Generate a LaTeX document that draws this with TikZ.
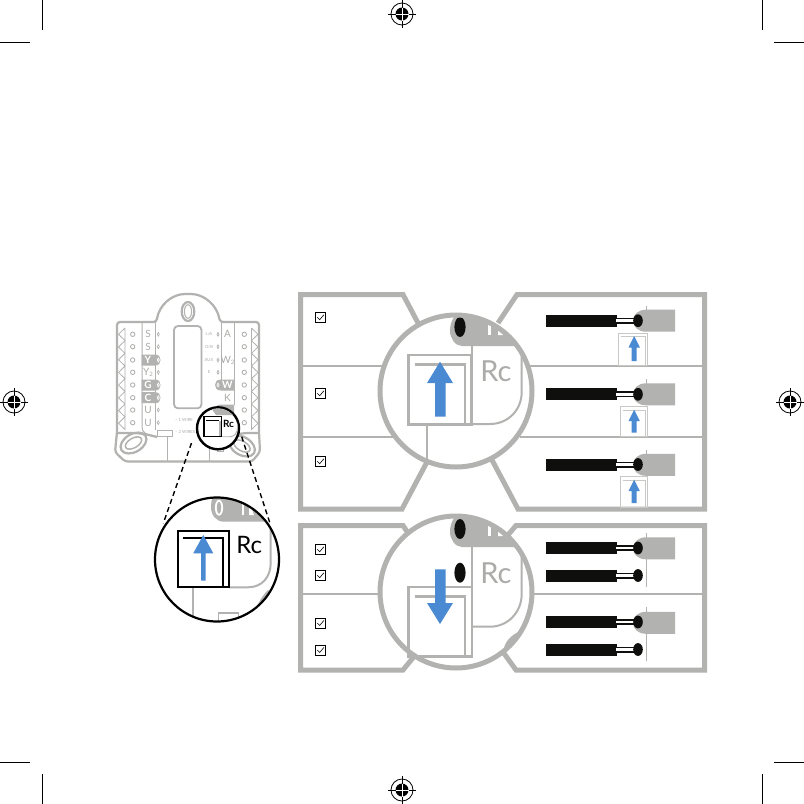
\documentclass[tikz,border=0pt]{standalone}
\usepackage{fontspec}
\setmainfont{Lato}
\definecolor{gr}{HTML}{B2B2B0}
\definecolor{gt}{HTML}{ABABA9}
\definecolor{lg}{HTML}{C8C8C6}
\definecolor{bl}{HTML}{4A8AD2}
\definecolor{ink}{HTML}{0F0F0D}
\newcommand{\regmark}[2]{%
  \draw[black,line width=.8pt] (#1,#2) circle (11);
  \fill[black] (#1,#2) circle (6.5);
  \draw[black,line width=.8pt] (#1-14,#2) -- (#1+14,#2) (#1,#2-14) -- (#1,#2+14);
  \draw[white,line width=.7pt] (#1-6.5,#2) -- (#1+6.5,#2) (#1,#2-6.5) -- (#1,#2+6.5);
}
\newcommand{\chkbox}[1]{%
  \draw[black,line width=1pt] (315.5,#1-5) rectangle (325.2,#1+5);
  \draw[black,line width=.6pt] (317.3,#1) -- (319.7,#1+2.4) -- (324,#1-2.6);
}
\newcommand{\wirerow}[1]{%
  \fill[ink] (546,#1-6) rectangle (616.5,#1+6);
  \fill[ink] (616,#1-3) rectangle (636,#1+3);
  \fill[white] (616,#1-1.3) rectangle (638,#1+1.3);
  \fill[ink] (638,#1) ellipse (4.8 and 6.4);
}
\newcommand{\plug}[1]{%
  \fill[gr] (675,#1-11) -- (646,#1-11) .. controls (638,#1-11) and (633,#1-6) .. (633,#1) .. controls (633,#1+6) and (638,#1+11) .. (646,#1+11) -- (675,#1+11) -- cycle;
}
\newcommand{\upsq}[3]{% left, top, bottom
  \draw[lg,line width=1pt] (#1,#2) rectangle (647,#3);
  \draw[lg,line width=1pt] (#1+2,#2+3.5) -- (645,#2+3.5) -- (645,#3);
  \fill[bl] (634.2-2.5,#3-4) -- (634.2+2.5,#3-4) -- (634.2+2.5,#2+14.5) -- (634.2+5.7,#2+14.5) -- (634.2,#2+3) -- (634.2-5.7,#2+14.5) -- (634.2-2.5,#2+14.5) -- cycle;
}
\newcommand{\tailshape}[1]{%
  \fill[gr] (535,#1+19) -- (462,#1+19) .. controls (455,#1+19) and (450,#1+11) .. (450,#1+4) .. controls (450,#1-6) and (455,#1-14) .. (462,#1-14) -- (535,#1-14) -- cycle;
  \fill[white] (487.5,#1-2) rectangle (490.8,#1+8);
  \fill[white] (498,#1+1) -- (500,#1+1) -- (503,#1+8) -- (498,#1+8) -- cycle;
}
\begin{document}
\begin{tikzpicture}[x=1pt,y=-1pt,
  panel/.style={gr,line width=5pt,line join=miter},
  sep/.style={gr,line width=2pt},
  lens/.style={gr,line width=5pt},
  frame/.style={gr,line width=2.5pt},
  crop/.style={black,line width=.9pt},
  body/.style={gr,line width=2.2pt},
  term/.style={gt,line width=.8pt},
  lab/.style={gt,font=\fontsize{10}{10}\selectfont,inner sep=0pt},
  tiny/.style={gt,font=\fontsize{4.2}{5}\selectfont,inner sep=0pt}]
\useasboundingbox (0,0) rectangle (804,804);
\fill[white] (0,0) rectangle (804,804);
% crop marks
\draw[crop] (42,0) -- (42,30) (0,42) -- (30,42);
\draw[crop] (762,0) -- (762,30) (804,42) -- (774,42);
\draw[crop] (42,804) -- (42,774) (0,762) -- (30,762);
\draw[crop] (762,804) -- (762,774) (804,762) -- (774,762);
\regmark{402}{14}\regmark{402}{790}\regmark{14}{402}\regmark{790}{402}

% ---------- thermostat base
\draw[body,rounded corners=3pt,fill=white] (156.5,322) .. controls (159,305) and (172,294) .. (188,294) .. controls (204,294) and (217,305) .. (220,322) -- (259,322) -- (259,432) -- (260,452) -- (252,461.5) -- (125,461.5) -- (115,452) -- (117,432) -- (117,322) -- cycle;
\draw[body] (188,311.5) ellipse (6.3 and 9.5);
\draw[gr,line width=1pt] (188,311.5) ellipse (3.6 and 6.8);
\draw[body,rounded corners=8pt] (117,433) -- (141,433) -- (157,437);
\draw[body,rounded corners=8pt] (259,433) -- (240,433) -- (226,438);
\draw[body,rotate around={30:(133.5,443)}] (133.5,443) ellipse (14 and 9);
\draw[gr,line width=1.5pt,rotate around={30:(133.5,443)}] (133.5,443) ellipse (9 and 4.8);
\draw[body,rotate around={-30:(242,446)}] (242,446) ellipse (14 and 9);
\draw[gr,line width=1.5pt,rotate around={-30:(242,446)}] (242,446) ellipse (9 and 4.8);
% saw-teeth
\draw[gr,line width=.8pt] (125,328) foreach \k in {0,...,7} {-- (118.5,334.3+\k*12.7) -- (125,340.6+\k*12.7)} -- (125,328);
\draw[gr,line width=.8pt] (251.5,328) foreach \k in {0,...,7} {-- (258,334.3+\k*12.7) -- (251.5,340.6+\k*12.7)} -- (251.5,328);
% columns
\draw[gr,line width=1pt] (142,322) -- (142,427) .. controls (142,432) and (145,435) .. (157,436.5);
\draw[gr,line width=1pt] (155,322) -- (155,430);
\draw[gr,line width=1pt] (221.7,322) -- (221.7,385);
\draw[gr,line width=1pt] (234,322) -- (234,405);
\draw[gr,line width=1.8pt,rounded corners=4pt] (174,326) rectangle (201.5,408.3);
% highlight pills
\foreach \y in {360,385,397.7}{
  \fill[gr] (141.7,\y-5.5) -- (155,\y-5.5) .. controls (159,\y-5.5) and (160.5,\y-3) .. (160.5,\y) .. controls (160.5,\y+3) and (159,\y+5.5) .. (155,\y+5.5) -- (141.7,\y+5.5) -- cycle;}
\fill[gr] (234,379.5) -- (221,379.5) .. controls (217,379.5) and (215,382) .. (215,385) .. controls (215,388) and (217,390.5) .. (221,390.5) -- (234,390.5) -- cycle;
\fill[gr] (234,404.5) -- (221,404.5) .. controls (217,404.5) and (215,407) .. (215,410) .. controls (215,413) and (217,415.5) .. (221,415.5) -- (234,415.5) -- cycle;
% terminals
\foreach \y in {334.3,346.7,360,372.3,385,397.7,410,422.7}{
  \draw[term] (132.7,\y) circle (2.2);
  \draw[term] (244.3,\y) circle (2.2);
}
\foreach \y in {334.3,346.7,372.3,410,422.7}{\draw[gt,line width=.6pt] (158.3,\y) ellipse (1.1 and 1.9);}
\foreach \y in {360,385,397.7}{\draw[white,line width=.7pt] (158.3,\y) ellipse (1.1 and 1.9);}
\foreach \y in {334.3,346.7,360,372.3}{\draw[gt,line width=.6pt] (218,\y) ellipse (1.1 and 1.9);}
\foreach \y in {385,410}{\draw[white,line width=.7pt] (218,\y) ellipse (1.1 and 1.9);}
\node[lab] at (148,334.3) {S};
\node[lab] at (148,346.7) {S};
\node[lab,white] at (148,360) {\textbf{Y}};
\node[lab] at (148,372.3) {Y\raisebox{-1pt}{\fontsize{6}{6}\selectfont 2}};
\node[lab,white] at (148,385) {\textbf{G}};
\node[lab,white] at (148,397.7) {\textbf{C}};
\node[lab] at (148,410) {U};
\node[lab] at (148,422.7) {U};
\node[lab] at (227.5,334.3) {A};
\node[lab] at (227.5,360) {W\raisebox{-1pt}{\fontsize{6}{6}\selectfont 2}};
\node[lab,white] at (227.5,385) {\textbf{W}};
\node[lab] at (227.5,397.7) {K};
\node[tiny] at (209,334.3) {L/A};
\node[tiny] at (209,346.7) {O/B};
\node[tiny] at (209,360) {AUX};
\node[tiny] at (209,372.3) {E};
\node[tiny,anchor=west] at (175,420) {--\ 1 WIRE};
\node[tiny,anchor=west] at (175,432) {--\ 2 WIRES};
\draw[gr,line width=1pt] (157,430) rectangle (172.7,436.5);
\draw[gr,line width=.8pt] (167.7,436.5) -- (167.7,461);
\draw[gr,line width=.8pt] (209.3,449) -- (209.3,461);
\draw[gr,line width=1pt] (217,445.7) rectangle (223,451.7);
% small lens
\draw[black,line width=2.4pt,fill=white] (218,428.3) circle (21);
\begin{scope}
\clip (218,428.3) circle (20);
\fill[gr] (235,408) -- (211,408) -- (216,415) -- (238,415) -- cycle;
\draw[gr,line width=.9pt] (221.7,436.7) -- (230,436.7) .. controls (234,436.7) and (237.5,433) .. (237.5,428) -- (237.5,412);
\fill[gr] (218.5,421) rectangle (221.7,436.7);
\draw[black,line width=1.2pt] (204,416.7) rectangle (221.7,436.7);
\draw[black,line width=.9pt] (206,420) -- (219,420);
\end{scope}
\node[black,inner sep=0pt,font=\fontsize{10}{10}\selectfont\bfseries] (rcs) at (228.5,423.5) {Rc};
% ---------- zoom lens at left
\coordinate (da) at (191.5,443);
\coordinate (db) at (163.3,523.3);
\coordinate (dc) at (241.7,436.7);
\coordinate (dd) at (270,523.3);
\draw[black,line width=1.4pt,dash pattern=on 5pt off 3.5pt] (da) -- (db);
\draw[black,line width=1.4pt,dash pattern=on 5pt off 3.5pt] (dc) -- (dd);
\begin{scope}
\clip (217,559.5) circle (62);
\fill[gr] (290,521.7) -- (224,521.7) .. controls (216,521.7) and (211,515) .. (211,507) .. controls (211,500) and (213,495) .. (216,490) -- (290,490) -- cycle;
\draw[white,line width=1.8pt] (219,507.7) ellipse (3.2 and 7);
\fill[white] (241.5,503) rectangle (244,515);
\fill[white] (249,507) -- (251,507) -- (254,515) -- (249,515) -- cycle;
\draw[gr,line width=2pt] (229,587.3) -- (248,587.3) .. controls (262,587.3) and (270.7,577) .. (270.7,563) -- (270.7,522);
\draw[gr,line width=2pt] (193.3,587.3) -- (193.3,625);
\draw[gr,line width=1.6pt] (218.3,612.7) -- (238.3,612.7) -- (238.3,630) (218.3,612.7) -- (218.3,630);
\fill[gr] (268,590) -- (280,600) -- (268,625) -- (255,612) .. controls (258,603) and (262,596) .. (268,590) -- cycle;
\end{scope}
\draw[black,line width=2.2pt] (217,559.5) circle (62);
\draw[black,line width=2.2pt] (177.7,530.7) rectangle (229.3,587.3);
\draw[black,line width=2pt] (183,538.3) -- (222.7,538.3) -- (222.7,587.3);
\fill[bl] (201,580.7) -- (205.7,580.7) -- (205.7,553.3) -- (213.3,553.3) -- (203.3,535) -- (193.3,553.3) -- (201,553.3) -- cycle;
\node[black,inner sep=0pt,font=\fontsize{24}{24}\selectfont] (rcz) at (249.3,544.5) {Rc};

% ---------- upper panels
\draw[panel] (418,323) -- (403,294.5) -- (300.5,294.5) -- (300.5,509) -- (402,509) -- (427,462);
\draw[panel] (498,323) -- (517,294.5) -- (704.5,294.5) -- (704.5,509) -- (518,509) -- (492,460);
\draw[sep] (303,365.7) -- (383,365.7) (303,437) -- (395,437);
\draw[sep] (530,365.7) -- (704,365.7) (520,437) -- (704,437);
\chkbox{317.3}\chkbox{393.3}\chkbox{461.3}
% upper lens
\fill[white] (456,391) circle (76);
\begin{scope}
\clip (456,391) circle (76);
\tailshape{327}
\fill[ink] (460,327) ellipse (5.6 and 10);
\draw[gr,line width=2pt] (471.7,346) -- (471.7,355);
\draw[gr,line width=2pt] (471.7,424) -- (490,424) .. controls (508,424) and (521.7,410) .. (521.7,392) -- (521.7,346);
\draw[gr,line width=2pt] (427,425) -- (427,470);
\end{scope}
\draw[frame] (408.5,355) rectangle (471.7,424.5);
\draw[frame] (415,364.5) -- (465,364.5) -- (465,424.5);
\fill[bl] (435,416.7) -- (445.5,416.7) -- (445.5,383) -- (453,383) -- (440,361.7) -- (427,383) -- (435,383) -- cycle;
\node[gt,inner sep=0pt,font=\fontsize{29}{29}\selectfont] (rca) at (496,371) {Rc};
\draw[lens] (456,391) circle (76);
% right rows upper
\plug{320.7}\plug{394.3}\plug{464.8}
\draw[gr,line width=1pt] (646.7,306) -- (646.7,310) (646.7,379) -- (646.7,384) (646.7,450) -- (646.7,454);
\wirerow{320.7}\wirerow{394.3}\wirerow{464.5}
\upsq{618.5}{333}{365}
\upsq{620.7}{406.7}{436.7}
\upsq{620.7}{476.7}{507}

% ---------- lower panels
\draw[panel] (408,533) -- (403,525.5) -- (300.5,525.5) -- (300.5,670) -- (403,670) -- (414,656.5);
\draw[panel] (508,535) -- (516,525.5) -- (704.5,525.5) -- (704.5,670) -- (516,670) -- (503,652);
\draw[sep] (303,594) -- (381,594);
\draw[sep] (533,594) -- (704,594);
\chkbox{549.3}\chkbox{575.3}\chkbox{623}\chkbox{650}
\fill[white] (456,592) circle (76);
\begin{scope}
\clip (456,592) circle (76);
\tailshape{528}
\fill[ink] (460,529) ellipse (5.6 and 10);
\fill[ink] (460,572.7) ellipse (5.6 and 10);
\draw[gr,line width=2pt] (471.7,547) -- (471.7,587);
\draw[gr,line width=2pt] (471.7,626.7) -- (490,626.7) .. controls (508,626.7) and (521.7,612) .. (521.7,594) -- (521.7,547);
\fill[gr] (504,648) .. controls (506,640) and (512,635) .. (520,631) -- (540,645) -- (515,672) -- cycle;
\end{scope}
\draw[frame] (408.5,587) rectangle (472,656.7);
\draw[frame] (415,596.7) -- (465,596.7) -- (465,656.7);
\fill[bl] (435,569.3) -- (445.5,569.3) -- (445.5,603) -- (453,603) -- (440,624) -- (427,603) -- (435,603) -- cycle;
\node[gt,inner sep=0pt,font=\fontsize{29}{29}\selectfont] (rcb) at (496,573) {Rc};
\draw[lens] (456,592) circle (76);
\plug{548.3}\plug{622.8}
\draw[gr,line width=1pt] (646.7,533) -- (646.7,587.3) (646.7,607.3) -- (646.7,660.7);
\wirerow{548}\wirerow{575.5}\wirerow{622}\wirerow{649.5}
\end{tikzpicture}
\end{document}
